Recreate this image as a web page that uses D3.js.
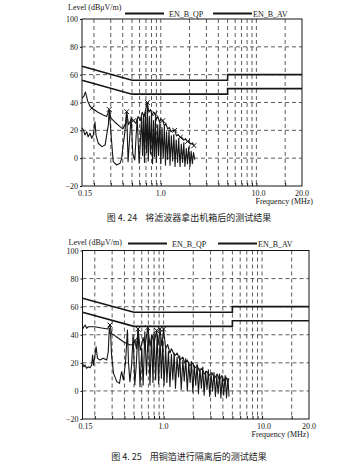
<!DOCTYPE html>
<html>
<head>
<meta charset="utf-8">
<script src="https://cdn.jsdelivr.net/npm/d3@7/dist/d3.min.js"></script>
<style>
  html, body { margin: 0; padding: 0; background: #ffffff; }
  svg { display: block; }
</style>
</head>
<body>
<svg id="chart" width="349" height="464"></svg>
<script>
// ---- axis ticks and labels ----
const freqTickValues = [0.15, 1, 10, 30];
const freqTickLabels = ["0.15", "1.0", "10.0", "20.0"];
const freqGridValues = [0.2, 0.3, 0.4, 0.5, 0.6, 0.7, 0.8, 0.9, 1, 2, 3, 4, 5, 6, 7, 8, 9, 10, 20];
const levelTickValues = [100, 80, 60, 40, 20, 0, -20];
const levelGridValues = [80, 60, 40, 20, 0];
const legendNames = ["EN_B_QP", "EN_B_AV"];
const axisTitle = "Level (dB\u03bcV/m)";
const freqTitle = "Frequency (MHz)";
const captions = ["图 4. 24    将滤波器拿出机箱后的测试结果", "图 4. 25    用铜箔进行隔离后的测试结果"];

// ---- EN 55022 class B limits [MHz, dBuV] ----
const qpLimit = [[0.15, 66], [0.5, 56], [5, 56], [5, 60], [30, 60]];
const avLimit = [[0.15, 56], [0.5, 46], [5, 46], [5, 50], [30, 50]];

// ---- scan with the filter taken out of the enclosure ----
const scan1Peak = [
  [0.150, 43], [0.158, 45], [0.163, 47.5], [0.168, 44], [0.172, 41], [0.180, 38], [0.190, 36],
  [0.220, 33], [0.250, 31], [0.272, 30], [0.289, 35], [0.300, 29], [0.330, 26], [0.370, 23],
  [0.400, 21], [0.430, 25], [0.440, 33.4], [0.460, 24], [0.490, 28], [0.520, 27], [0.550, 25],
  [0.580, 30], [0.610, 27], [0.640, 33], [0.670, 30], [0.700, 36], [0.725, 40], [0.750, 33],
  [0.780, 35], [0.810, 31], [0.840, 33], [0.870, 32], [0.900, 28], [0.930, 30], [0.970, 26],
  [1.000, 28], [1.050, 27], [1.090, 23], [1.130, 25], [1.180, 21], [1.230, 22], [1.280, 19],
  [1.330, 20], [1.400, 20], [1.460, 16], [1.520, 17], [1.600, 15], [1.660, 15], [1.740, 13],
  [1.820, 14], [1.900, 12], [1.980, 12], [2.060, 10], [2.150, 11], [2.220, 9]
];
const scan1Avg = [
  [0.150, 21.9], [0.155, 20.3], [0.161, 16.7], [0.168, 19], [0.174, 15.4], [0.182, 17.9],
  [0.190, 14.3], [0.197, 16.7], [0.205, 26.2], [0.210, 16.7], [0.222, 10.7], [0.242, 8.3],
  [0.262, 9.5], [0.272, 16.7], [0.283, 23.9], [0.289, 34.6], [0.299, 21.5], [0.306, 11.9],
  [0.318, -2.5], [0.346, -4.9], [0.375, -3.7], [0.390, -0.1], [0.405, 10], [0.420, 18],
  [0.440, 33.4], [0.455, -2.5], [0.470, 12], [0.490, 29.8], [0.510, 3], [0.535, -1.3],
  [0.550, 14], [0.567, 28.7], [0.594, -3.7], [0.610, 10], [0.630, 29.8], [0.645, 2],
  [0.660, 31], [0.675, -3], [0.690, 33], [0.710, 4], [0.725, 38], [0.740, -2], [0.760, 30],
  [0.780, 3], [0.800, 32], [0.820, -4], [0.840, 27], [0.860, 1], [0.880, 29], [0.900, -3],
  [0.930, 24], [0.950, 2], [0.980, 26], [1.000, -4], [1.030, 22], [1.060, 0], [1.090, 23],
  [1.120, -5], [1.150, 19], [1.180, -1], [1.220, 20], [1.250, -5], [1.290, 16], [1.330, -2],
  [1.370, 17], [1.410, -6], [1.450, 13], [1.500, -3], [1.540, 14], [1.590, -6], [1.640, 10],
  [1.690, -3], [1.740, 11], [1.790, -6], [1.850, 7], [1.900, -4], [1.960, 8], [2.020, -6],
  [2.080, 5], [2.140, -4], [2.200, 4], [2.270, -1]
];
const scan1Marks = [
  [0.190, 36], [0.289, 35], [0.440, 33.4], [0.520, 27], [0.725, 40], [0.870, 32],
  [1.050, 27], [1.400, 20], [1.600, 15], [1.900, 12], [2.220, 9]
];

// ---- scan with copper foil isolation ----
const scan2Peak = [
  [0.150, 44], [0.155, 45.7], [0.160, 46.9], [0.165, 44.6], [0.172, 45.7], [0.186, 45.7],
  [0.200, 45.7], [0.226, 45], [0.244, 44.6], [0.270, 44.1], [0.285, 47], [0.296, 41],
  [0.340, 38], [0.390, 35], [0.455, 32.7], [0.490, 33], [0.510, 36], [0.530, 30], [0.550, 44],
  [0.580, 29], [0.620, 38], [0.645, 31], [0.690, 45], [0.730, 32], [0.760, 40], [0.800, 34],
  [0.850, 43], [0.880, 33], [0.920, 44], [0.960, 32], [1.000, 44], [1.050, 30], [1.100, 33],
  [1.160, 27], [1.200, 30], [1.300, 25], [1.370, 27], [1.460, 22], [1.570, 24], [1.640, 20],
  [1.740, 22], [1.840, 18], [1.980, 20], [2.060, 16], [2.200, 18], [2.310, 14], [2.450, 16],
  [2.600, 12], [2.740, 14], [2.900, 11], [3.100, 13], [3.300, 9], [3.500, 12], [3.700, 8],
  [3.900, 11], [4.100, 7], [4.300, 10], [4.500, 6], [4.600, 9]
];
const scan2Avg = [
  [0.150, 19.7], [0.155, 17.2], [0.159, 18.4], [0.165, 16.1], [0.172, 17.2], [0.179, 16.5],
  [0.186, 18.4], [0.190, 25.6], [0.194, 18.4], [0.201, 25.6], [0.206, 31.5], [0.213, 23.2],
  [0.226, 22], [0.244, 23.2], [0.264, 22], [0.274, 27.9], [0.281, 44.6], [0.290, 39.8],
  [0.296, 25.6], [0.310, 12.5], [0.335, 6.6], [0.356, 5.4], [0.368, 11.3], [0.375, 13.7],
  [0.390, 7.8], [0.410, 20], [0.429, 43.4], [0.440, 20], [0.455, 6.6], [0.473, 18.4],
  [0.490, 39.8], [0.510, 4.2], [0.530, 20.8], [0.550, 44.6], [0.576, 3], [0.600, 30.3],
  [0.620, 4.2], [0.645, 42.2], [0.670, 11.3], [0.700, 44.6], [0.727, 4.2], [0.754, 39.8],
  [0.780, 6], [0.800, 42], [0.830, 8], [0.860, 40], [0.890, 5], [0.920, 38], [0.950, 9],
  [0.980, 36], [1.010, 4], [1.050, 30], [1.080, 6], [1.120, 28], [1.160, 3], [1.200, 26],
  [1.240, 8], [1.280, 27], [1.320, 2], [1.370, 24], [1.420, 10], [1.460, 25], [1.510, 1],
  [1.570, 22], [1.620, 7], [1.680, 23], [1.740, 0], [1.800, 20], [1.860, 6], [1.920, 21],
  [1.980, -1], [2.050, 18], [2.120, 4], [2.190, 19], [2.260, -2], [2.340, 16], [2.420, 2],
  [2.500, 17], [2.580, -3], [2.670, 14], [2.760, 1], [2.850, 15], [2.940, -4], [3.040, 12],
  [3.140, 0], [3.250, 13], [3.360, -4], [3.470, 11], [3.580, -2], [3.700, 12], [3.820, -5],
  [3.950, 10], [4.080, -3], [4.220, 11], [4.360, -5], [4.500, 9], [4.620, -4]
];
const scan2Marks = [
  [0.285, 47], [0.510, 36], [0.550, 44], [0.690, 45], [0.850, 43], [0.920, 44], [1.000, 44]
];

// ---- drawing ----
const svg = d3.select("#chart");
const ink = "#161616";
const serif = "'Liberation Serif', 'DejaVu Serif', serif";

function drawPanel(g, box, peak, avg, marks, caption) {
  const x = d3.scaleLog().domain([0.15, 30]).range([box.left, box.right]);
  const y = d3.scaleLinear().domain([-20, 100]).range([box.bottom, box.top]);

  // dashed grid
  g.append("g").selectAll("line").data(freqGridValues).join("line")
    .attr("x1", d => x(d)).attr("x2", d => x(d))
    .attr("y1", box.top).attr("y2", box.bottom)
    .attr("stroke", "#333").attr("stroke-width", 0.8).attr("stroke-dasharray", "4,3");
  g.append("g").selectAll("line").data(levelGridValues).join("line")
    .attr("x1", box.left).attr("x2", box.right)
    .attr("y1", d => y(d)).attr("y2", d => y(d))
    .attr("stroke", "#333").attr("stroke-width", 0.8).attr("stroke-dasharray", "4,3");

  // bottom axis with inward ticks on every grid frequency
  const xAxis = d3.axisBottom(x).tickValues(freqGridValues).tickSize(-3).tickFormat("");
  const ax = g.append("g").attr("transform", `translate(0,${box.bottom})`).call(xAxis);
  ax.select(".domain").remove();
  ax.selectAll("line").attr("stroke", ink);

  // frequency labels
  g.append("g").selectAll("text").data(freqTickValues).join("text")
    .attr("x", (d, i) => x(d) + (i === 0 ? 3 : 0) + (i === 2 ? 2 : 0))
    .attr("y", box.bottom + 10)
    .attr("text-anchor", "middle")
    .attr("font-family", serif).attr("font-size", 8).attr("fill", ink)
    .text((d, i) => freqTickLabels[i]);

  // level axis labels
  const yAxis = d3.axisLeft(y).tickValues(levelTickValues).tickSize(2).tickPadding(2)
    .tickFormat(d => d < 0 ? "\u2212" + Math.abs(d) : d);
  const ay = g.append("g").attr("transform", `translate(${box.left},0)`).call(yAxis);
  ay.select(".domain").remove();
  ay.selectAll("line").attr("stroke", ink);
  ay.selectAll("text").attr("font-family", serif).attr("font-size", 8).attr("fill", ink);

  // frame
  g.append("rect")
    .attr("x", box.left).attr("y", box.top)
    .attr("width", box.right - box.left).attr("height", box.bottom - box.top)
    .attr("fill", "none").attr("stroke", ink).attr("stroke-width", 1);

  const line = d3.line().x(d => x(d[0])).y(d => y(d[1]));

  // limit lines
  [qpLimit, avLimit].forEach(lim => {
    g.append("path").datum(lim).attr("d", line)
      .attr("fill", "none").attr("stroke", ink).attr("stroke-width", 1.6);
  });

  // measured traces
  g.append("path").datum(avg).attr("d", line)
    .attr("fill", "none").attr("stroke", ink).attr("stroke-width", 1.1)
    .attr("stroke-linejoin", "round");
  g.append("path").datum(peak).attr("d", line)
    .attr("fill", "none").attr("stroke", ink).attr("stroke-width", 1.1)
    .attr("stroke-linejoin", "round");

  // peak markers
  const s = 2.4;
  g.append("g").selectAll("path").data(marks).join("path")
    .attr("d", d => {
      const cx = x(d[0]), cy = y(d[1]);
      return `M${cx - s},${cy - s}L${cx + s},${cy + s}M${cx - s},${cy + s}L${cx + s},${cy - s}`;
    })
    .attr("stroke", ink).attr("stroke-width", 1).attr("fill", "none");

  // titles and legend
  g.append("text").attr("x", box.left - 14).attr("y", box.titleY)
    .attr("font-family", serif).attr("font-size", 8).attr("fill", ink).text(axisTitle);
  legendNames.forEach((name, i) => {
    const lx = box.legendX[i];
    g.append("line").attr("x1", lx).attr("x2", lx + 39)
      .attr("y1", box.legendY).attr("y2", box.legendY)
      .attr("stroke", ink).attr("stroke-width", 1.8);
    g.append("text").attr("x", lx + 44 - (i === 1 ? 4 : 0)).attr("y", box.legendY + 3)
      .attr("font-family", serif).attr("font-size", 8).attr("fill", ink).text(name);
  });
  g.append("text").attr("x", box.right + (box.freqTitleDx || 0)).attr("y", box.bottom + 18)
    .attr("text-anchor", "end")
    .attr("font-family", serif).attr("font-size", 8).attr("fill", ink).text(freqTitle);

  // figure caption
  g.append("text").attr("x", 189).attr("y", box.captionY)
    .attr("text-anchor", "middle").style("white-space", "pre")
    .attr("font-family", "'Noto Sans CJK SC', sans-serif").attr("font-size", 9)
    .attr("fill", "#222").text(caption);
}

drawPanel(svg.append("g"),
  { left: 82, right: 302, top: 19, bottom: 186, titleY: 10, legendX: [125, 213], legendY: 13.5,
    freqTitleDx: 11, captionY: 221 },
  scan1Peak, scan1Avg, scan1Marks, captions[0]);

drawPanel(svg.append("g"),
  { left: 82.5, right: 309, top: 250.5, bottom: 419, titleY: 244.5, legendX: [128, 218], legendY: 243.5,
    freqTitleDx: 0, captionY: 460 },
  scan2Peak, scan2Avg, scan2Marks, captions[1]);
</script>
</body>
</html>
